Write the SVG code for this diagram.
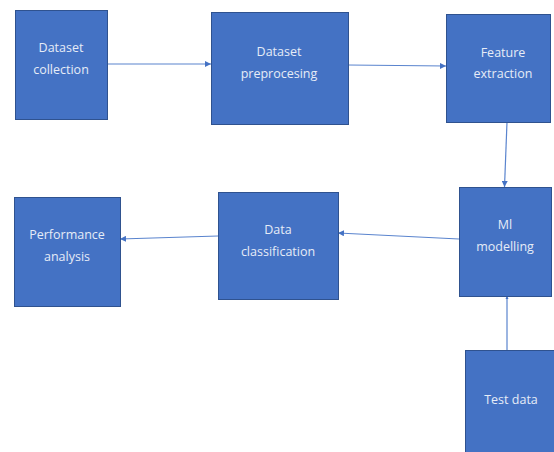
<svg xmlns="http://www.w3.org/2000/svg" width="554" height="452" viewBox="0 0 554 452">
  <style>
    .box { fill: #4472C4; stroke: #2F528F; stroke-width: 1; }
    .lbl { fill: #E6ECF7; font-family: "Open Sans", "Liberation Sans", sans-serif; font-size: 12.5px; text-anchor: middle; dominant-baseline: central; }
    .edge { stroke: #5A84CE; stroke-width: 1.2; fill: none; marker-end: url(#head); }
    .edge.small { marker-end: url(#head-small); }
  </style>
  <defs>
    <marker id="head" viewBox="0 0 10 10" refX="10" refY="5" markerWidth="6" markerHeight="6" markerUnits="userSpaceOnUse" orient="auto">
      <path d="M0,0 L10,5 L0,10 z" fill="#4472C4"/>
    </marker>
    <marker id="head-small" viewBox="0 0 10 10" refX="10" refY="5" markerWidth="3" markerHeight="5" markerUnits="userSpaceOnUse" orient="auto">
      <path d="M0,0 L10,5 L0,10 z" fill="#4472C4"/>
    </marker>
  </defs>
  <rect width="554" height="452" fill="#FFFFFF"/>

  <g id="connectors">
    <line class="edge" x1="107" y1="64" x2="211" y2="64"/>
    <line class="edge" x1="348" y1="65" x2="446" y2="66"/>
    <line class="edge" x1="507" y1="122" x2="504.5" y2="187"/>
    <line class="edge" x1="459" y1="239" x2="338" y2="233"/>
    <line class="edge" x1="218" y1="236" x2="120" y2="239"/>
    <line class="edge small" x1="507" y1="350" x2="507" y2="296"/>
  </g>

  <g id="dataset-collection">
    <rect class="box" x="15.5" y="10.5" width="92" height="109"/>
    <text class="lbl" x="61" y="47">Dataset</text>
    <text class="lbl" x="61" y="69">collection</text>
  </g>

  <g id="dataset-preprocesing">
    <rect class="box" x="211.5" y="12.5" width="137" height="112"/>
    <text class="lbl" x="279" y="51">Dataset</text>
    <text class="lbl" x="279" y="73">preprocesing</text>
  </g>

  <g id="feature-extraction">
    <rect class="box" x="446.5" y="14.5" width="104" height="108"/>
    <text class="lbl" x="503" y="52">Feature</text>
    <text class="lbl" x="503" y="73">extraction</text>
  </g>

  <g id="ml-modelling">
    <rect class="box" x="459.5" y="187.5" width="92" height="109"/>
    <text class="lbl" x="505" y="224">Ml</text>
    <text class="lbl" x="505" y="246">modelling</text>
  </g>

  <g id="test-data">
    <rect class="box" x="465.5" y="350.5" width="92" height="106"/>
    <text class="lbl" x="511" y="399">Test data</text>
  </g>

  <g id="data-classification">
    <rect class="box" x="218.5" y="192.5" width="120" height="107"/>
    <text class="lbl" x="278" y="229">Data</text>
    <text class="lbl" x="278" y="251">classification</text>
  </g>

  <g id="performance-analysis">
    <rect class="box" x="14.5" y="197.5" width="106" height="109"/>
    <text class="lbl" x="67" y="234">Performance</text>
    <text class="lbl" x="67" y="256">analysis</text>
  </g>
</svg>
